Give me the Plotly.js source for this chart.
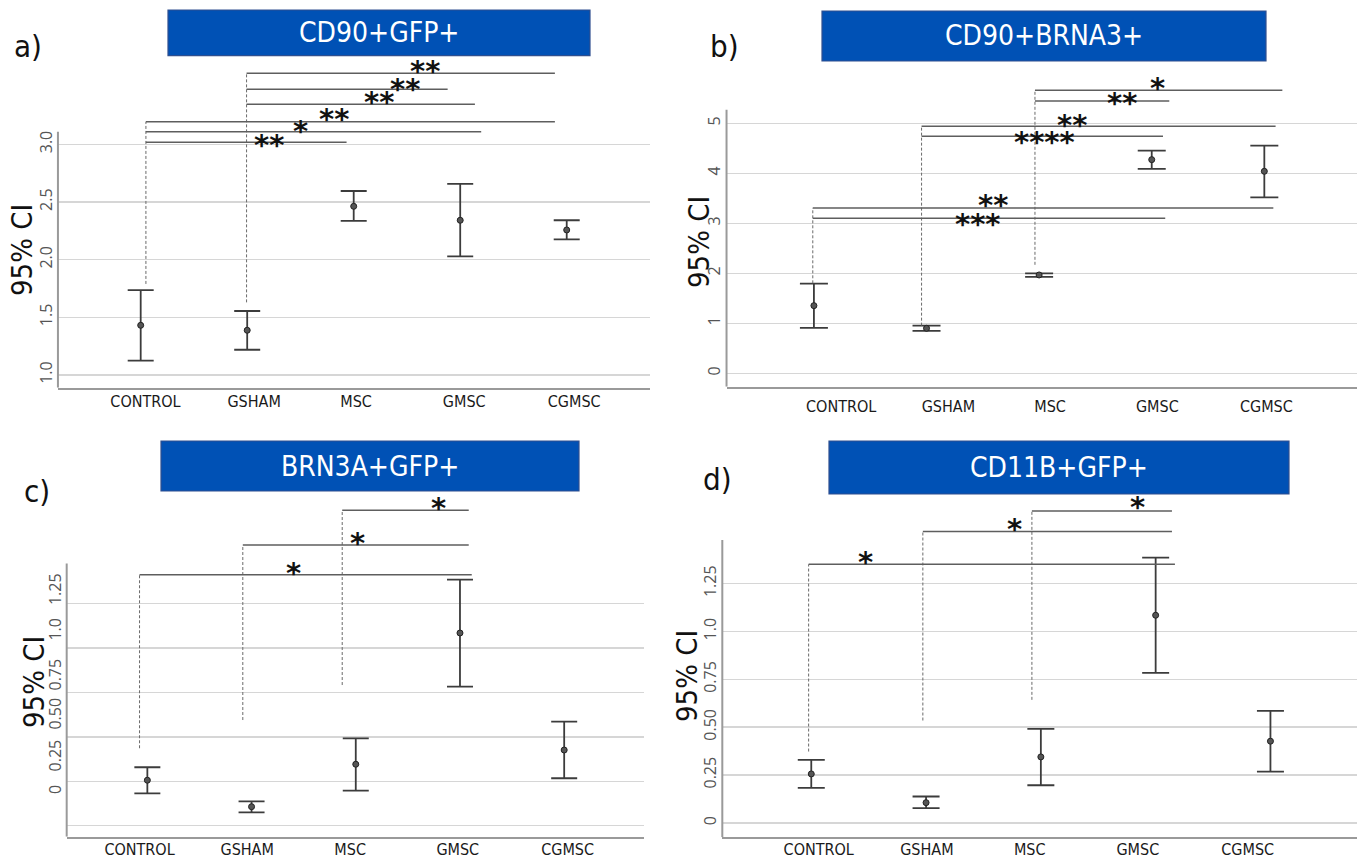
<!DOCTYPE html>
<html>
<head>
<meta charset="utf-8">
<script src="https://cdn.plot.ly/plotly-3.0.1.min.js"></script>
<style>
  html, body { margin: 0; padding: 0; background: #ffffff; }
  #chart { width: 1357px; height: 860px; }
</style>
</head>
<body>
<div id="chart"></div>
<script>
// ---------------- DATA ----------------
const categories = ['CONTROL', 'GSHAM', 'MSC', 'GMSC', 'CGMSC'];
const panelTitles = ['CD90+GFP+', 'CD90+BRNA3+', 'BRN3A+GFP+', 'CD11B+GFP+'];
const panelLetters = ['a)', 'b)', 'c)', 'd)'];
const yTitle = '95% CI';

// a) CD90+GFP+
const a_mean = [1.431, 1.388, 2.463, 2.342, 2.258];
const a_low  = [1.124, 1.219, 2.336, 2.029, 2.177];
const a_high = [1.737, 1.555, 2.596, 2.657, 2.342];
// b) CD90+BRNA3+
const b_mean = [1.353, 0.900, 1.967, 4.273, 4.040];
const b_low  = [0.907, 0.847, 1.927, 4.087, 3.520];
const b_high = [1.793, 0.953, 2.000, 4.453, 4.553];
// c) BRN3A+GFP+
const c_mean = [0.256, 0.107, 0.346, 1.085, 0.426];
const c_low  = [0.182, 0.075, 0.197, 0.783, 0.267];
const c_high = [0.329, 0.137, 0.492, 1.385, 0.586];
// d) CD11B+GFP+
const d_mean = [0.256, 0.106, 0.345, 1.085, 0.427];
const d_low  = [0.183, 0.077, 0.197, 0.784, 0.268];
const d_high = [0.329, 0.138, 0.491, 1.386, 0.585];

// significance brackets (x in category-index units, levels in data units)
const a_brFrom  = [0.049, 0.049, 0.049, 0.994, 0.994, 0.994];
const a_brTo    = [1.933, 3.197, 3.889, 3.138, 2.882, 3.889];
const a_brLevel = [3.018, 3.110, 3.197, 3.348, 3.478, 3.617];
const a_brStars = ['**', '*', '**', '**', '**', '**'];
const a_starX   = [1.207, 1.501, 1.814, 2.239, 2.481, 2.669];
const a_starY   = [3.049, 3.166, 3.270, 3.417, 3.535, 3.691];
const a_dashX   = [0.049, 0.994];
const a_dashTop = [3.197, 3.617];
const a_dashBot = [1.79, 1.63];

const b_brFrom  = [-0.01, -0.01, 0.956, 0.956, 1.963, 1.963];
const b_brTo    = [3.12, 4.08, 3.10, 4.10, 3.156, 4.16];
const b_brLevel = [3.10, 3.307, 4.74, 4.94, 5.447, 5.66];
const b_brStars = ['***', '**', '****', '**', '**', '*'];
const b_starX   = [1.455, 1.588, 2.047, 2.296, 2.735, 3.053];
const b_starY   = [3.116, 3.496, 4.746, 5.092, 5.526, 5.826];
const b_dashX   = [-0.01, 0.956, 1.963];
const b_dashTop = [3.307, 4.94, 5.66];
const b_dashBot = [1.80, 0.953, 2.17];

const c_brFrom  = [-0.075, 0.916, 1.87];
const c_brTo    = [3.113, 3.084, 3.084];
const c_brLevel = [1.413, 1.58, 1.776];
const c_brStars = ['*', '*', '*'];
const c_starX   = [1.402, 2.017, 2.791];
const c_starY   = [1.455, 1.627, 1.821];
const c_dashX   = [-0.075, 0.916, 1.87];
const c_dashTop = [1.413, 1.58, 1.776];
const c_dashBot = [0.436, 0.595, 0.792];

const d_brFrom  = [-0.023, 0.972, 1.922];
const d_brTo    = [3.168, 3.142, 3.142];
const d_brLevel = [1.351, 1.522, 1.63];
const d_brStars = ['*', '*', '*'];
const d_starX   = [0.471, 1.774, 2.838];
const d_starY   = [1.396, 1.565, 1.68];
const d_dashX   = [-0.023, 0.972, 1.922];
const d_dashTop = [1.351, 1.522, 1.63];
const d_dashBot = [0.373, 0.535, 0.643];

// x tick label positions (category-index units)
const a_labelPos = [0.045, 1.065, 2.022, 3.038, 4.07];
const b_labelPos = [0.242, 1.194, 2.097, 3.05, 4.018];
const c_labelPos = [-0.075, 0.958, 1.946, 2.979, 4.033];
const d_labelPos = [0.065, 1.007, 1.903, 2.845, 3.802];

// y ticks
const a_yTicks = [1.0, 1.5, 2.0, 2.5, 3.0];
const a_yText  = ['1.0', '1.5', '2.0', '2.5', '3.0'];
const b_yTicks = [0, 1, 2, 3, 4, 5];
const b_yText  = ['0', '1', '2', '3', '4', '5'];
const c_yGrid  = [0, 0.25, 0.5, 0.75, 1.0, 1.25];
const c_yLabelAt = [0.191, 0.381, 0.617, 0.837, 1.092, 1.318];
const c_yText  = ['0', '0.25', '0.50', '0.75', '1.0', '1.25'];
const d_yTicks = [0, 0.25, 0.5, 0.75, 1.0, 1.25];
const d_yText  = ['0', '0.25', '0.50', '0.75', '1.0', '1.25'];

// ---------------- STYLE / LAYOUT CONSTANTS ----------------
const narrow = "'Liberation Sans Narrow', 'DejaVu Sans Condensed', 'Liberation Sans', sans-serif";
const tickFont = { family: "'Open Sans', sans-serif", size: 16, color: '#555555' };
const xFont = { family: narrow, size: 16, color: '#1a1a1a' };
const starFont = { family: "'DejaVu Sans', sans-serif", size: 29, color: '#111111', weight: 'bold' };
const gridColor = '#d6d6d6';
const axisColor = '#9a9a9a';
const boxBlue = '#0051B5';

const panels = [
  { mean: a_mean, low: a_low, high: a_high, from: a_brFrom, to: a_brTo, level: a_brLevel, stars: a_brStars,
    starX: a_starX, starY: a_starY, dashX: a_dashX, dashTop: a_dashTop, dashBot: a_dashBot, labelPos: a_labelPos,
    xDom: [0.0427, 0.4790], xRange: [-0.777, 4.782], yDom: [0.54919, 0.93023], yRange: [0.89, 3.732], axisTop: 3.11,
    capW: 13, standoff: -2, box: [168, 590, 10, 55.7], letter: [28, 46.5], ytitle: [22, 250] },
  { mean: b_mean, low: b_low, high: b_high, from: b_brFrom, to: b_brTo, level: b_brLevel, stars: b_brStars,
    starX: b_starX, starY: b_starY, dashX: b_dashX, dashTop: b_dashTop, dashBot: b_dashBot, labelPos: b_labelPos,
    xDom: [0.5354, 1.0], xRange: [-0.776, 4.823], yDom: [0.55035, 0.91860], yRange: [-0.268, 6.066], axisTop: 5.27,
    capW: 14, standoff: 4, box: [822, 1266, 11, 61], letter: [724.6, 46.5], ytitle: [699, 242] },
  { mean: c_mean, low: c_low, high: c_high, from: c_brFrom, to: c_brTo, level: c_brLevel, stars: c_brStars,
    starX: c_starX, starY: c_starY, dashX: c_dashX, dashTop: c_dashTop, dashBot: c_dashBot, labelPos: c_labelPos,
    xDom: [0.04915, 0.47458], xRange: [-0.774, 4.766], yDom: [0.02709, 0.42442], yRange: [-0.062, 1.862], axisTop: 1.477,
    capW: 13, standoff: -3, box: [161, 579, 441, 491], letter: [37, 491], ytitle: [34, 682] },
  { mean: d_mean, low: d_low, high: d_high, from: d_brFrom, to: d_brTo, level: d_brLevel, stars: d_brStars,
    starX: d_starX, starY: d_starY, dashX: d_dashX, dashTop: d_dashTop, dashBot: d_dashBot, labelPos: d_labelPos,
    xDom: [0.53228, 1.0], xRange: [-0.775, 4.754], yDom: [0.02640, 0.42093], yRange: [-0.075, 1.6975], axisTop: 1.478,
    capW: 13.5, standoff: -3, box: [829, 1289, 441, 494], letter: [717, 479], ytitle: [687, 676] }
];
const yTickSets = [
  { vals: a_yTicks, text: a_yText },
  { vals: b_yTicks, text: b_yText },
  { vals: c_yLabelAt, text: c_yText, grid: c_yGrid },
  { vals: d_yTicks, text: d_yText }
];

const W = 1357, H = 860;
const px = v => v / W;
const py = v => 1 - v / H;

const traces = [];
const shapes = [];
const annotations = [];
const layout = {
  width: W, height: H,
  margin: { l: 0, r: 0, t: 0, b: 0 },
  paper_bgcolor: '#ffffff',
  plot_bgcolor: 'rgba(0,0,0,0)',
  showlegend: false,
  font: { family: narrow }
};

panels.forEach((p, k) => {
  const n = k + 1;
  const xa = n === 1 ? 'x' : 'x' + n;
  const ya = n === 1 ? 'y' : 'y' + n;
  const xKey = n === 1 ? 'xaxis' : 'xaxis' + n;
  const yKey = n === 1 ? 'yaxis' : 'yaxis' + n;

  traces.push({
    type: 'scatter', mode: 'markers',
    x: categories.map((c, i) => i),
    y: p.mean,
    text: categories,
    xaxis: xa, yaxis: ya,
    marker: { size: 6, color: '#555555', line: { color: '#222222', width: 1 } },
    error_y: {
      type: 'data', symmetric: false,
      array: p.high.map((h, i) => h - p.mean[i]),
      arrayminus: p.low.map((l, i) => p.mean[i] - l),
      color: '#3c3c3c', thickness: 1.8, width: p.capW
    },
    cliponaxis: false,
    hoverinfo: 'x+y'
  });

  layout[xKey] = {
    domain: p.xDom, range: p.xRange, anchor: ya,
    tickmode: 'array', tickvals: p.labelPos, ticktext: categories,
    showgrid: false, zeroline: false, showline: true, linecolor: axisColor, linewidth: 2,
    ticks: '', tickfont: xFont, ticklabelstandoff: p.standoff, fixedrange: true
  };
  const ts = yTickSets[k];
  const yax = {
    domain: p.yDom, range: p.yRange, anchor: xa,
    tickmode: 'array', tickvals: ts.vals, ticktext: ts.text, tickangle: -90,
    tickfont: tickFont, ticks: '', ticklabelstandoff: 2,
    showgrid: true, gridcolor: gridColor, gridwidth: 1.5,
    zeroline: false, showline: false, fixedrange: true
  };
  if (ts.grid) {
    yax.showgrid = false;
    yax.minor = { tickmode: 'array', tickvals: ts.grid, showgrid: true, gridcolor: gridColor, gridwidth: 1.5, ticks: '' };
  }
  layout[yKey] = yax;

  // y-axis line (stops at axis top)
  shapes.push({ type: 'line', xref: xa + ' domain', yref: ya, x0: 0, x1: 0, y0: p.yRange[0], y1: p.axisTop,
    line: { color: axisColor, width: 2 }, layer: 'above' });

  // dashed drop lines
  p.dashX.forEach((x, i) => {
    shapes.push({ type: 'line', xref: xa, yref: ya, x0: x, x1: x, y0: p.dashBot[i], y1: p.dashTop[i],
      line: { color: '#6a6a6a', width: 1, dash: '3px,2px' } });
  });
  // brackets + stars
  p.level.forEach((lv, i) => {
    shapes.push({ type: 'line', xref: xa, yref: ya, x0: p.from[i], x1: p.to[i], y0: lv, y1: lv,
      line: { color: '#5e5e5e', width: 1.5 } });
    annotations.push({ xref: xa, yref: ya, x: p.starX[i], y: p.starY[i], text: p.stars[i], showarrow: false,
      xanchor: 'center', yanchor: 'middle', yshift: -6, font: starFont });
  });

  // title box
  const b = p.box;
  shapes.push({ type: 'rect', xref: 'paper', yref: 'paper', x0: px(b[0]), x1: px(b[1]), y0: py(b[3]), y1: py(b[2]),
    fillcolor: boxBlue, line: { color: '#2F4F8F', width: 1.2 }, layer: 'above' });
  annotations.push({ xref: 'paper', yref: 'paper', x: px((b[0] + b[1]) / 2), y: py((b[2] + b[3]) / 2),
    text: panelTitles[k], showarrow: false, xanchor: 'center', yanchor: 'middle',
    font: { family: narrow, size: 28, color: '#ffffff' } });
  // panel letter
  annotations.push({ xref: 'paper', yref: 'paper', x: px(p.letter[0]), y: py(p.letter[1]),
    text: panelLetters[k], showarrow: false, xanchor: 'center', yanchor: 'middle',
    font: { family: narrow, size: 31, color: '#111111' } });
  // y title
  annotations.push({ xref: 'paper', yref: 'paper', x: px(p.ytitle[0]), y: py(p.ytitle[1]),
    text: yTitle, showarrow: false, textangle: -90, xanchor: 'center', yanchor: 'middle',
    font: { family: narrow, size: 29, color: '#111111' } });
});

layout.shapes = shapes;
layout.annotations = annotations;

Plotly.newPlot('chart', traces, layout, { displayModeBar: false, staticPlot: true });
</script>
</body>
</html>
